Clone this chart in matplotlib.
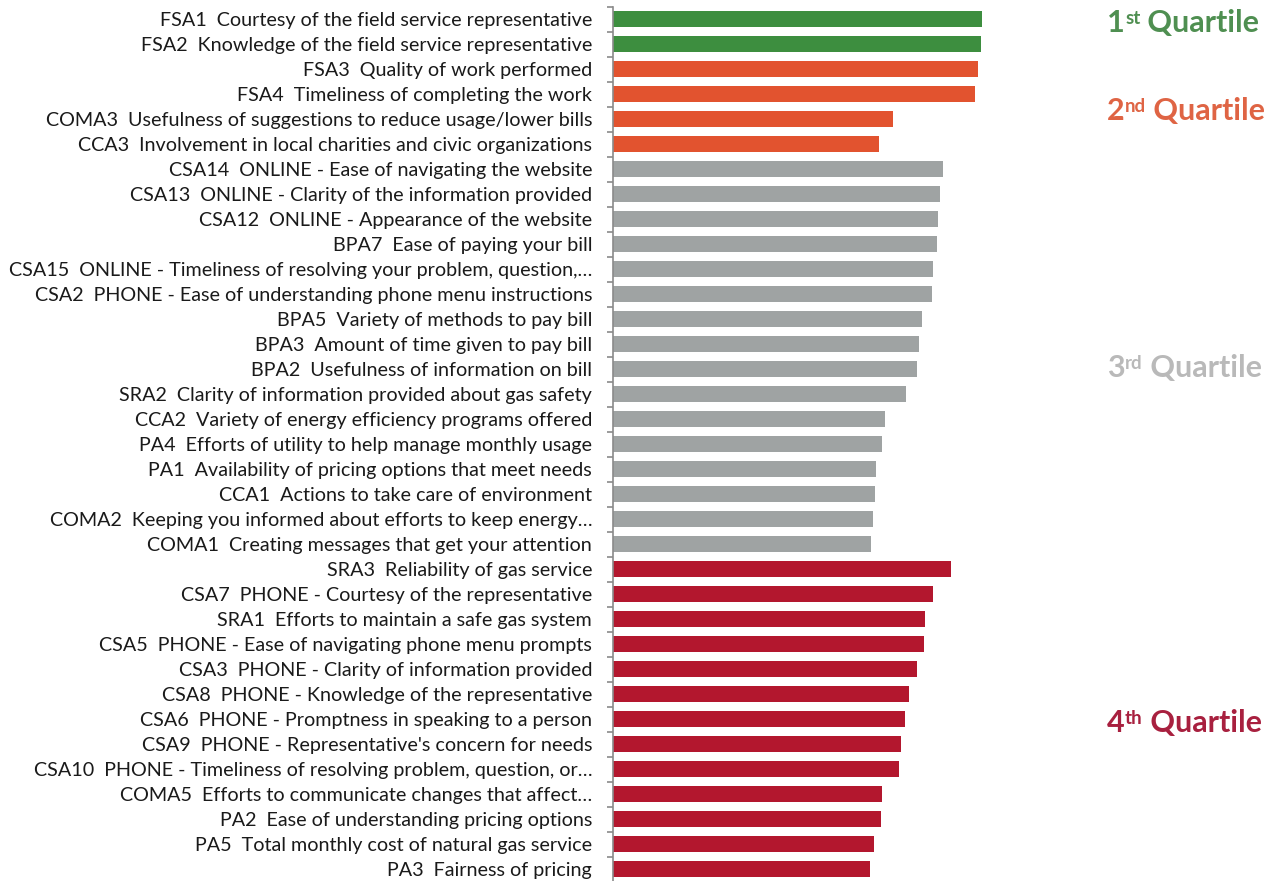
import matplotlib.pyplot as plt
import numpy as np

plt.rcParams["font.family"] = ["Lato", "DejaVu Sans"]

items = [
    "FSA1  Courtesy of the field service representative",
    "FSA2  Knowledge of the field service representative",
    "FSA3  Quality of work performed",
    "FSA4  Timeliness of completing the work",
    "COMA3  Usefulness of suggestions to reduce usage/lower bills",
    "CCA3  Involvement in local charities and civic organizations",
    "CSA14  ONLINE - Ease of navigating the website",
    "CSA13  ONLINE - Clarity of the information provided",
    "CSA12  ONLINE - Appearance of the website",
    "BPA7  Ease of paying your bill",
    "CSA15  ONLINE - Timeliness of resolving your problem, question,\u2026",
    "CSA2  PHONE - Ease of understanding phone menu instructions",
    "BPA5  Variety of methods to pay bill",
    "BPA3  Amount of time given to pay bill",
    "BPA2  Usefulness of information on bill",
    "SRA2  Clarity of information provided about gas safety",
    "CCA2  Variety of energy efficiency programs offered",
    "PA4  Efforts of utility to help manage monthly usage",
    "PA1  Availability of pricing options that meet needs",
    "CCA1  Actions to take care of environment",
    "COMA2  Keeping you informed about efforts to keep energy\u2026",
    "COMA1  Creating messages that get your attention",
    "SRA3  Reliability of gas service",
    "CSA7  PHONE - Courtesy of the representative",
    "SRA1  Efforts to maintain a safe gas system",
    "CSA5  PHONE - Ease of navigating phone menu prompts",
    "CSA3  PHONE - Clarity of information provided",
    "CSA8  PHONE - Knowledge of the representative",
    "CSA6  PHONE - Promptness in speaking to a person",
    "CSA9  PHONE - Representative's concern for needs",
    "CSA10  PHONE - Timeliness of resolving problem, question, or\u2026",
    "COMA5  Efforts to communicate changes that affect\u2026",
    "PA2  Ease of understanding pricing options",
    "PA5  Total monthly cost of natural gas service",
    "PA3  Fairness of pricing",
]

scores = [
    9.22, 9.20, 9.12, 9.05, 7.00, 6.65,
    8.25, 8.18, 8.12, 8.10, 8.00, 7.98, 7.72, 7.65, 7.60, 7.32,
    6.80, 6.72, 6.58, 6.55, 6.50, 6.45,
    8.45, 8.00, 7.80, 7.78, 7.60, 7.40, 7.30, 7.20, 7.15, 6.72, 6.70, 6.52, 6.42,
]

quartile = [1, 1, 2, 2, 2, 2] + [3] * 16 + [4] * 13

bar_colors = {1: "#3d8e3f", 2: "#e2532f", 3: "#9fa3a3", 4: "#b3172e"}
text_colors = {1: "#4f8f51", 2: "#df6444", 3: "#b9b9b9", 4: "#a8203f"}
ordinals = {1: "st", 2: "nd", 3: "rd", 4: "th"}

W, H = 1281, 881
fig = plt.figure(figsize=(W / 100, H / 100), dpi=100)
ax = fig.add_axes([613 / W, -0.5 / H, 400 / W, 875 / H])

y = np.arange(len(items))
ax.barh(y, scores, height=0.64, color=[bar_colors[q] for q in quartile])

ax.set_xlim(0, 10)
ax.set_ylim(len(items) - 0.5, -0.5)
for s in ["top", "right", "bottom"]:
    ax.spines[s].set_visible(False)
ax.spines["left"].set_color("#8a8a8a")
ax.spines["left"].set_linewidth(1.2)
ax.set_xticks([])
ax.set_yticks(y)
ax.set_yticklabels(items, fontsize=14.2, color="#1a1a1a")
ax.tick_params(axis="y", which="major", length=0, pad=15)
ax.set_yticks(np.arange(len(items) + 1) - 0.5, minor=True)
ax.tick_params(axis="y", which="minor", length=4, color="#8a8a8a", width=1.2)

# quartile captions on the right
caption_y = {1: 23, 2: 111, 3: 368, 4: 723}
for q, py in caption_y.items():
    c = text_colors[q]
    t1 = fig.text(1107 / W, 1 - py / H, str(q), fontsize=22, fontweight="bold",
                  color=c, va="center", ha="left")
    t2 = ax.annotate(ordinals[q], xy=(1.02, 0.98), xycoords=t1, fontsize=13.5,
                     fontweight="bold", color=c, va="top", ha="left",
                     annotation_clip=False)
    ax.annotate(" Quartile", xy=(1, 0), xycoords=(t2, t1), fontsize=22,
                fontweight="bold", color=c, va="bottom", ha="left",
                annotation_clip=False)

fig.savefig("out.png", dpi=100)
